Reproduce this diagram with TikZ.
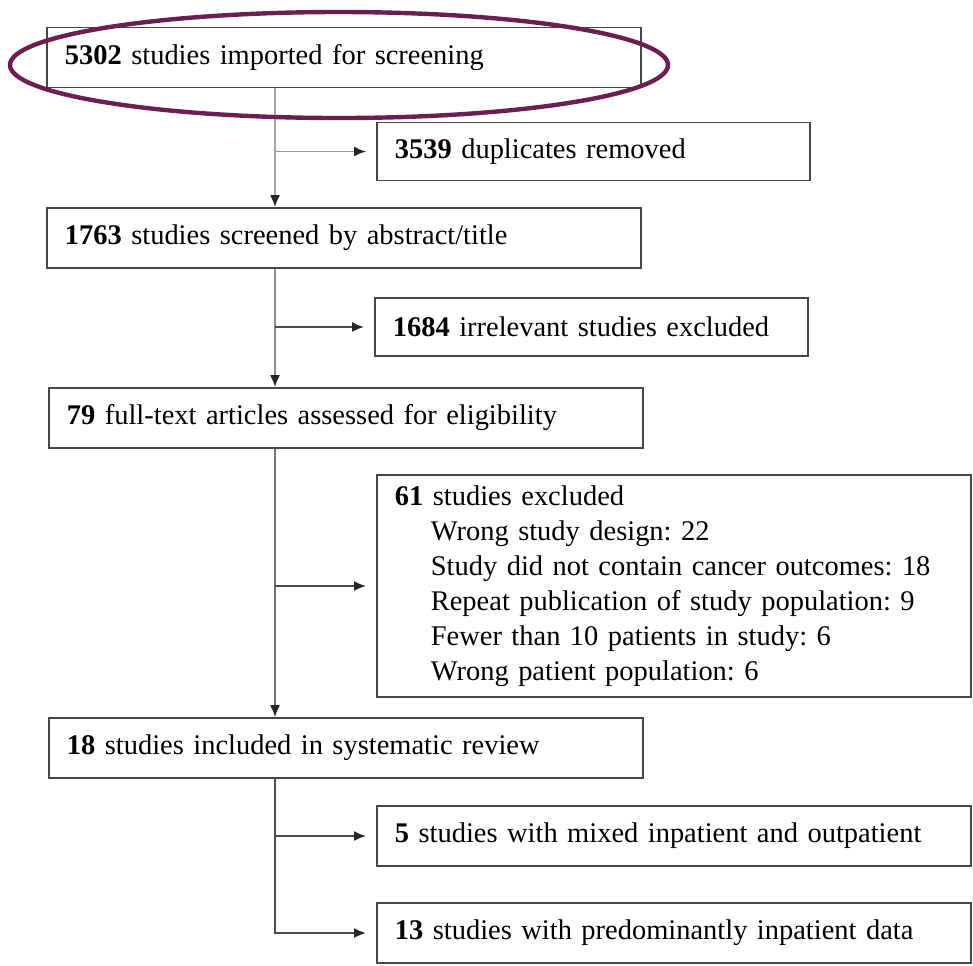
\documentclass[tikz,border=0pt]{standalone}
\usepackage{fontspec}
\setmainfont{Liberation Serif}
\usetikzlibrary{arrows.meta}
\definecolor{hlpurple}{HTML}{6B1E4F}
\frenchspacing
\begin{document}
\begin{tikzpicture}[x=0.02cm, y=-0.02cm,
box_style/.style={draw=black!72, line width=1pt, anchor=west, align=left, inner xsep=0.36cm, inner ysep=0pt, font=\fontsize{16.2}{19.9}\selectfont},
narrow_box/.style={box_style, text width=7.94cm, minimum height=1.16cm},
wide_box/.style={box_style, text width=11.16cm, minimum height=1.2cm},
edge_style/.style={draw=black!55, line width=1pt, -{Latex[length=0.24cm,width=0.2cm,color=black!85]}},
side_edge/.style={shorten >=0.2cm, draw=black!70},
ring_style/.style={draw=hlpurple, line width=2.5pt}]
\useasboundingbox (0,0) rectangle (973,965);
\node[wide_box] (n1) at (46,57.5) {\textbf{5302} studies imported for screening};
\node[narrow_box] (n2) at (376,151.5) {\textbf{3539} duplicates removed};
\node[wide_box] (n3) at (46,238) {\textbf{1763} studies screened by abstract/title};
\node[narrow_box] (n4) at (374,327) {\textbf{1684} irrelevant studies excluded};
\node[wide_box] (n5) at (48,418) {\textbf{79} full-text articles assessed for eligibility};
\node[wide_box, minimum height=4.44cm] (n6) at (376,586) {\textbf{61} studies excluded\\
\hspace*{0.72cm}Wrong study design: 22\\
\hspace*{0.72cm}Study did not contain cancer outcomes: 18\\
\hspace*{0.72cm}Repeat publication of study population: 9\\
\hspace*{0.72cm}Fewer than 10 patients in study: 6\\
\hspace*{0.72cm}Wrong patient population: 6};
\node[wide_box] (n7) at (48,748) {\textbf{18} studies included in systematic review};
\node[wide_box] (n8) at (376,836) {\textbf{5} studies with mixed inpatient and outpatient};
\node[wide_box] (n9) at (376,933) {\textbf{13} studies with predominantly inpatient data};
\coordinate (trunk) at (275,0);

% main flow
\draw[edge_style, draw=black!35] (n1.south -| trunk) -- (n3.north -| trunk);
\draw[edge_style, draw=black!45] (n3.south -| trunk) -- (n5.north -| trunk);
\draw[edge_style] (n5.south -| trunk) -- (n7.north -| trunk);
\draw[edge_style, side_edge] (n7.south -| trunk) |- (n9.west);
% exclusions
\draw[edge_style, side_edge, draw=black!40] (trunk |- n2.west) -- (n2.west);
\draw[edge_style, side_edge] (trunk |- n4.west) -- (n4.west);
\draw[edge_style, side_edge] (trunk |- n6.west) -- (n6.west);
\draw[edge_style, side_edge] (trunk |- n8.west) -- (n8.west);

\draw[ring_style] (339,65) ellipse (329 and 53);
\end{tikzpicture}
\end{document}
